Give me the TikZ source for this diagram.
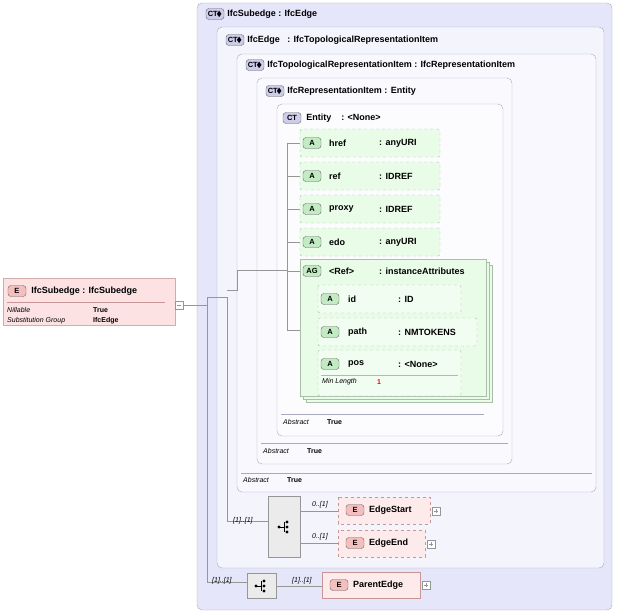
\documentclass[tikz,border=0pt]{standalone}
\usepackage{amssymb}
\usepackage{fontspec}
\setmainfont{Liberation Sans}
\usetikzlibrary{positioning}
\definecolor{ctfill}{RGB}{230, 230, 250}
\definecolor{ctline}{RGB}{170, 170, 190}
\definecolor{cttag}{RGB}{205, 205, 235}
\definecolor{efill}{RGB}{252, 226, 226}
\definecolor{etag}{RGB}{245, 190, 190}
\definecolor{eline}{RGB}{200, 150, 150}
\definecolor{afill}{RGB}{232, 252, 232}
\definecolor{atag}{RGB}{195, 235, 195}
\definecolor{aline}{RGB}{170, 190, 170}
\definecolor{conn}{RGB}{150, 150, 150}

\tikzset{
  ct/.style={draw=ctline, fill=ctfill, rounded corners=5pt},
  inner ct/.style={draw=ctline, fill=ctfill!45!white, rounded corners=5pt},
  attr/.style={draw=aline, dashed, fill=afill, rounded corners=2pt},
  elem/.style={draw=eline, fill=efill},
  tag/.style={draw=black!60, rounded corners=3pt, font=\bfseries\fontsize{7.5}{8}\selectfont,
    inner sep=1pt, minimum width=18pt, minimum height=11pt},
  lbl/.style={anchor=west, font=\bfseries\fontsize{9}{10}\selectfont, inner sep=0pt},
  small/.style={anchor=west, font=\itshape\fontsize{7}{8}\selectfont, inner sep=0pt},
  val/.style={anchor=west, font=\bfseries\fontsize{7}{8}\selectfont, inner sep=0pt},
  link/.style={draw=conn, line width=0.5pt}
}

\begin{document}
\begin{tikzpicture}[x=1pt, y=-1pt]
  \useasboundingbox (0, 0) rectangle (617, 613);

  % complex types, outer to inner
  \draw [ct] (197, 3) rectangle (612, 610);
  \node [tag, fill=cttag] (tSub) at (215, 14) {CT$\!\blacklozenge$};
  \node [lbl, right=3pt of tSub] {IfcSubedge : IfcEdge};

  \draw [inner ct] (217, 27) rectangle (604, 568);
  \node [tag, fill=cttag] (tEdge) at (235, 40) {CT$\!\blacklozenge$};
  \node [lbl, right=3pt of tEdge] {IfcEdge \ \ : IfcTopologicalRepresentationItem};

  \draw [inner ct, fill=white!70!ctfill] (237, 54) rectangle (596, 492);
  \draw [ctline] (241, 473) -- (592, 473);
  \node [tag, fill=cttag] (tTop) at (255, 65) {CT$\!\blacklozenge$};
  \node [lbl, right=3pt of tTop] {IfcTopologicalRepresentationItem : IfcRepresentationItem};
  \node [small] at (243, 480) {Abstract};
  \node [val] at (287, 480) {True};

  \draw [inner ct, fill=white!80!ctfill] (257, 78) rectangle (512, 464);
  \draw [ctline] (261, 443) -- (508, 443);
  \node [tag, fill=cttag] (tRep) at (275, 91) {CT$\!\blacklozenge$};
  \node [lbl, right=3pt of tRep] {IfcRepresentationItem : Entity};
  \node [small] at (263, 451) {Abstract};
  \node [val] at (307, 451) {True};

  \draw [inner ct, fill=white!90!ctfill] (277, 104) rectangle (503, 436);
  \draw [ctline] (281, 414) -- (484, 414);
  \node [tag, fill=cttag] (tEnt) at (292, 118) {CT};
  \node [lbl, right=5pt of tEnt] {Entity \ \ \ : <None>};
  \node [small] at (283, 422) {Abstract};
  \node [val] at (327, 422) {True};

  % connectors of the attribute tree
  \draw [link] (183, 305) -- (207, 305) (207, 297) -- (207, 582) -- (247, 582);
  \draw [link] (207, 297) -- (227, 297) -- (227, 521) -- (268, 521);
  \draw [link] (227, 290) -- (237, 290) -- (237, 270) -- (287, 270);
  \draw [link] (287, 143) -- (287, 330) -- (300, 330);
  \foreach \y in {143, 176, 209, 242, 271} {
    \draw [link] (287, \y) -- (300, \y);
  }
  \draw [link] (307, 299) -- (307, 368);
  \foreach \y in {299, 332, 364} {
    \draw [link] (307, \y) -- (318, \y);
  }

  % attributes
  \foreach \n/\t/\y/\w in {href/anyURI/129/140, ref/IDREF/162/140, proxy/IDREF/195/140, edo/anyURI/228/140} {
    \draw [attr] (300, \y) rectangle +(\w, 28);
    \node [tag, fill=atag] (a\n) at (312, \y+14) {A};
    \node [lbl] at (329, \y+14) {\n};
    \node [lbl] at (379, \y+14) {: \t};
  }

  % attribute group
  \foreach \d in {6, 3} {
    \draw [draw=aline, fill=afill] (300+\d, 259+\d) rectangle (486+\d, 396+\d);
  }
  \draw [draw=aline, fill=afill] (300, 259) rectangle (486, 396);
  \node [tag, fill=atag] (tAG) at (312, 271) {AG};
  \node [lbl] at (329, 271) {<Ref>};
  \node [lbl] at (379, 271) {: instanceAttributes};
  \foreach \n/\t/\y/\w in {id/ID/285/143, path/NMTOKENS/318/159} {
    \draw [attr, fill=afill!60!white] (318, \y) rectangle +(\w, 28);
    \node [tag, fill=atag] at (330, \y+14) {A};
    \node [lbl] at (348, \y+14) {\n};
    \node [lbl] at (398, \y+14) {: \t};
  }
  \draw [attr, fill=afill!60!white] (318, 350) rectangle (461, 396);
  \draw [aline] (321, 375) -- (458, 375);
  \node [tag, fill=atag] at (330, 364) {A};
  \node [lbl] at (348, 364) {pos};
  \node [lbl] at (398, 364) {: <None>};
  \node [small] at (322, 382) {Min Length};
  \node [val, text=red] at (377, 382) {1};

  % the element itself
  \draw [elem, draw=eline!80] (3, 278) rectangle (175, 325);
  \node [tag, fill=etag] (tElem) at (17, 291) {E};
  \node [lbl, right=5pt of tElem] {IfcSubedge : IfcSubedge};
  \draw [eline] (7, 302) -- (165, 302);
  \node [small] at (7, 310) {Nillable};
  \node [val] at (93, 310) {True};
  \node [small] at (7, 321) {Substitution Group};
  \node [val] at (93, 321) {IfcEdge};
  \draw [conn, fill=white] (175, 301) rectangle (183, 309);
  \draw [conn] (177, 305) -- (181, 305);

  % sequences
  \draw [draw=conn, fill=black!8] (268, 496) rectangle (300, 557);
  \draw [draw=conn, fill=black!8] (247, 573) rectangle (276, 598);
  \foreach \x/\y in {284/527, 261/586} {
    \fill (\x-5, \y) circle (1.6);
    \draw (\x-5, \y) -- (\x, \y) (\x, \y-5) -- (\x, \y+5);
    \foreach \d in {-5, 0, 5} \fill (\x+3, \y+\d) circle (1.6);
  }
  \draw [link] (300, 511) -- (338, 511) (300, 543) -- (338, 543);
  \draw [link] (276, 586) -- (322, 586);
  \node [small] at (233, 521) {[1]..[1]};
  \node [small] at (312, 505) {0..[1]};
  \node [small] at (312, 537) {0..[1]};
  \node [small] at (212, 581) {[1]..[1]};
  \node [small] at (292, 581) {[1]..[1]};

  \foreach \n/\y/\w in {EdgeStart/497/92, EdgeEnd/530/87} {
    \draw [elem, dashed, fill=efill!70!white] (338, \y) rectangle +(\w, 27);
    \node [tag, fill=etag] (e\n) at (355, \y+13) {E};
    \node [lbl] at (369, \y+13) {\n};
    \draw [conn, fill=white] (338+\w+2, \y+10) rectangle +(8, 8);
    \draw [conn] (338+\w+4, \y+14) -- +(4, 0) (338+\w+6, \y+12) -- +(0, 4);
  }
  \draw [elem, fill=efill!70!white] (322, 572) rectangle (420, 598);
  \node [tag, fill=etag] (eParent) at (339, 585) {E};
  \node [lbl] at (353, 585) {ParentEdge};
  \draw [conn, fill=white] (422, 581) rectangle +(8, 8);
  \draw [conn] (424, 585) -- +(4, 0) (426, 583) -- +(0, 4);
\end{tikzpicture}
\end{document}
